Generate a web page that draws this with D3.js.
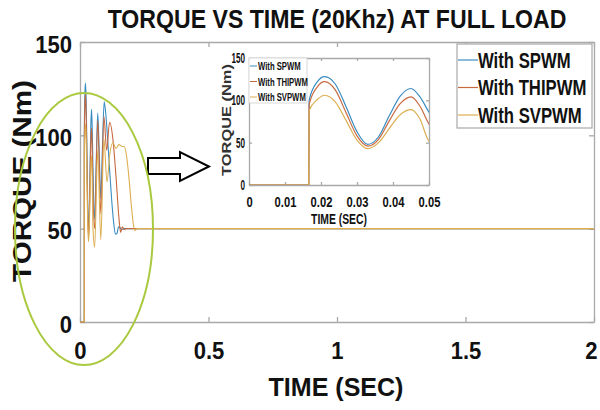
<!DOCTYPE html>
<html>
<head>
<meta charset="utf-8">
<script src="https://cdn.jsdelivr.net/npm/d3@7"></script>
<style>
  body { margin: 0; background: #fff; }
  svg { display: block; }
  text { font-family: "Liberation Sans", Arial, sans-serif; font-weight: bold; fill: #111; }
  .ax .domain, .ax line { stroke: #a9a9a9; stroke-width: 1.3; }
</style>
</head>
<body>
<svg id="chart" width="600" height="410"></svg>
<script>
const seriesNames = ['With SPWM', 'With THIPWM', 'With SVPWM'];
const seriesColors = ['#3a8dc2', '#c8683f', '#dcae52'];

const spwmTime = [0, 0.0166, 0.0167, 0.019, 0.021, 0.024, 0.027, 0.030, 0.033, 0.036, 0.039, 0.042, 0.045, 0.0475, 0.05,
  0.057, 0.063, 0.069, 0.075, 0.081, 0.087, 0.094, 0.1, 0.108, 0.116, 0.124, 0.132, 0.138, 0.144, 0.15, 0.156, 0.162, 0.17, 2];
const spwmTorque = [0, 0, 100, 122, 128, 119, 92, 63, 48, 57, 82, 105, 114, 104, 86,
  55, 85, 112, 90, 66, 92, 118, 112, 97, 80, 64, 52, 47, 47.5, 51, 50.5, 49.5, 50, 50];

const thiTime = [0, 0.0166, 0.0167, 0.019, 0.021, 0.024, 0.027, 0.030, 0.033, 0.036, 0.039, 0.042, 0.045, 0.0475, 0.05,
  0.057, 0.069, 0.081, 0.093, 0.104, 0.115, 0.128, 0.14, 0.152, 0.158, 0.165, 0.172, 0.18, 2];
const thiTorque = [0, 0, 95, 116, 122, 112, 85, 58, 46, 54, 76, 96, 104, 93, 72,
  50, 108, 58, 110, 92, 107, 98, 78, 55, 48, 51, 49.5, 50, 50];

const svTime = [0, 0.0166, 0.0167, 0.019, 0.021, 0.024, 0.027, 0.030, 0.033, 0.036, 0.039, 0.042, 0.045, 0.0475, 0.05,
  0.057, 0.069, 0.081, 0.093, 0.105, 0.116, 0.128, 0.14, 0.152, 0.164, 0.172, 0.18, 0.19, 0.2, 0.208, 0.214, 0.222, 2];
const svTorque = [0, 0, 88, 101, 106, 98, 76, 53, 43, 50, 67, 83, 89, 78, 52,
  40, 92, 44, 98, 75, 90, 96, 93, 95, 94, 94, 90, 78, 62, 52, 49, 50, 50];

const xTicks = [0, 0.5, 1, 1.5, 2];
const yTicks = [0, 50, 100, 150];
const insetXTicks = [0, 0.01, 0.02, 0.03, 0.04, 0.05];
const insetYTicks = [0, 50, 100, 150];

const series = [
  { name: seriesNames[0], color: seriesColors[0], pts: d3.zip(spwmTime, spwmTorque) },
  { name: seriesNames[1], color: seriesColors[1], pts: d3.zip(thiTime, thiTorque) },
  { name: seriesNames[2], color: seriesColors[2], pts: d3.zip(svTime, svTorque) }
];

const svg = d3.select('#chart');

// narrow the glyphs horizontally (the source figure uses a condensed face)
function condense(sel, k) {
  sel.each(function() {
    var t = d3.select(this);
    var x0 = +t.attr('x') || 0;
    t.attr('x', x0 / k).attr('transform', 'scale(' + k + ',1)');
  });
}
// place a text at (px,py), optionally rotated, scaled along its run to a target length
function placeText(px, py, rot, str, size, len) {
  var t = svg.append('text')
    .attr('text-anchor', 'middle')
    .style('font-size', size + 'px')
    .text(str);
  var k = len / t.node().getComputedTextLength();
  t.attr('transform', 'translate(' + px + ',' + py + ')' + (rot ? ' rotate(' + rot + ')' : '') + ' scale(' + k + ',1)');
  return t;
}

// ---- main axes
const x = d3.scaleLinear().domain([0, 2]).range([80, 594]);
const y = d3.scaleLinear().domain([0, 150]).range([322, 42]);

svg.append('rect')
  .attr('x', 80).attr('y', 42).attr('width', 514).attr('height', 280)
  .attr('fill', '#fff');

const gx = svg.append('g').attr('class', 'ax')
  .attr('transform', 'translate(0,322)')
  .call(d3.axisBottom(x).tickValues(xTicks).tickSize(-5).tickSizeOuter(0).tickPadding(20).tickFormat(d3.format('~g')));
gx.selectAll('text').style('font-size', '24px')
  .attr('x', function(d) { return d === 2 ? -3 : 0; })
  .call(condense, 0.92);

svg.append('g').attr('class', 'ax')
  .attr('transform', 'translate(0,42)')
  .call(d3.axisTop(x).tickValues(xTicks).tickSize(-5).tickSizeOuter(0).tickFormat(''));

const gy = svg.append('g').attr('class', 'ax')
  .attr('transform', 'translate(80,0)')
  .call(d3.axisLeft(y).tickValues(yTicks).tickSize(-5).tickSizeOuter(0).tickPadding(8));
gy.selectAll('text').style('font-size', '24px').attr('dy', '0.42em').call(condense, 0.92);

svg.append('g').attr('class', 'ax')
  .attr('transform', 'translate(594,0)')
  .call(d3.axisRight(y).tickValues(yTicks).tickSize(-5).tickSizeOuter(0).tickFormat(''));

const line = d3.line()
  .x(function(d) { return x(d[0]); })
  .y(function(d) { return y(d[1]); })
  .curve(d3.curveMonotoneX);

svg.append('g').selectAll('path')
  .data(series)
  .enter().append('path')
  .attr('d', function(d) { return line(d.pts); })
  .attr('fill', 'none')
  .attr('stroke', function(d) { return d.color; })
  .attr('stroke-width', 1.1);

placeText(337, 28, 0, 'TORQUE VS TIME (20Khz) AT FULL LOAD', 25, 459);
placeText(31, 181, -90, 'TORQUE (Nm)', 26, 202);
placeText(336, 396, 0, 'TIME (SEC)', 26, 135);

// ---- main legend
const legend = svg.append('g');
legend.append('rect')
  .attr('x', 457).attr('y', 44).attr('width', 135).attr('height', 84)
  .attr('fill', '#fff').attr('stroke', '#a9a9a9').attr('stroke-width', 1.2);
const le = legend.selectAll('g.item')
  .data(series)
  .enter().append('g').attr('class', 'item')
  .attr('transform', function(d, i) { return 'translate(0,' + (60 + i * 27.5) + ')'; });
le.append('line')
  .attr('x1', 458).attr('x2', 478)
  .attr('stroke', function(d) { return d.color; }).attr('stroke-width', 1.2);
le.append('text')
  .attr('x', 478).attr('y', 7.5)
  .style('font-size', '22px')
  .text(function(d) { return d.name; })
  .call(condense, 0.76);

// ---- inset
const xi = d3.scaleLinear().domain([0, 0.05]).range([249, 429]);
const yi = d3.scaleLinear().domain([0, 150]).range([185, 58]);

const inset = svg.append('g');
inset.append('rect')
  .attr('x', 249).attr('y', 58).attr('width', 180).attr('height', 127)
  .attr('fill', '#fff');
inset.append('clipPath').attr('id', 'inclip')
  .append('rect').attr('x', 249).attr('y', 58).attr('width', 180).attr('height', 127);

const ixl = inset.append('g').attr('class', 'ax')
  .attr('transform', 'translate(0,185)')
  .call(d3.axisBottom(xi).tickValues(insetXTicks).tickSize(-3).tickSizeOuter(0).tickPadding(12).tickFormat(d3.format('~g')));
ixl.selectAll('text').style('font-size', '14px').call(condense, 0.8);
inset.append('g').attr('class', 'ax')
  .attr('transform', 'translate(0,58)')
  .call(d3.axisTop(xi).tickValues(insetXTicks).tickSize(-3).tickSizeOuter(0).tickFormat(''));
const iyl = inset.append('g').attr('class', 'ax')
  .attr('transform', 'translate(249,0)')
  .call(d3.axisLeft(yi).tickValues(insetYTicks).tickSize(-3).tickSizeOuter(0).tickPadding(4));
iyl.selectAll('text').style('font-size', '14px').call(condense, 0.58);
inset.append('g').attr('class', 'ax')
  .attr('transform', 'translate(429,0)')
  .call(d3.axisRight(yi).tickValues(insetYTicks).tickSize(-3).tickSizeOuter(0).tickFormat(''));

const iline = d3.line()
  .x(function(d) { return xi(d[0]); })
  .y(function(d) { return yi(d[1]); })
  .curve(d3.curveMonotoneX);

inset.append('g').attr('clip-path', 'url(#inclip)')
  .selectAll('path')
  .data(series)
  .enter().append('path')
  .attr('d', function(d) { return iline(d.pts.filter(function(p) { return p[0] <= 0.06; })); })
  .attr('fill', 'none')
  .attr('stroke', function(d) { return d.color; })
  .attr('stroke-width', 1.2);

placeText(231, 120, -90, 'TORQUE (Nm)', 13, 112).style('fill', '#333');
placeText(339, 224, 0, 'TIME (SEC)', 14, 56);

const ileg = inset.append('g');
ileg.append('rect')
  .attr('x', 249).attr('y', 58).attr('width', 58).attr('height', 45)
  .attr('fill', '#fff').attr('stroke', '#cfcfcf').attr('stroke-width', 0.8);
const ie = ileg.selectAll('g.item')
  .data(series)
  .enter().append('g').attr('class', 'item')
  .attr('transform', function(d, i) { return 'translate(0,' + (66 + i * 15.5) + ')'; });
ie.append('line')
  .attr('x1', 250).attr('x2', 257)
  .attr('stroke', function(d) { return d.color; }).attr('stroke-width', 1);
ie.append('text')
  .attr('x', 258).attr('y', 4)
  .style('font-size', '11px')
  .text(function(d) { return d.name; })
  .call(condense, 0.7);

// ---- annotations: arrow and highlight ellipse
const arrowPts = [[148, 158], [180, 158], [180, 152], [209, 166.5], [180, 181], [180, 174], [148, 174]];
svg.append('polygon')
  .attr('points', arrowPts.map(function(p) { return p.join(','); }).join(' '))
  .attr('fill', '#fff')
  .attr('stroke', '#000')
  .attr('stroke-width', 2)
  .attr('stroke-linejoin', 'miter');

svg.append('ellipse')
  .attr('cx', 84).attr('cy', 229)
  .attr('rx', 69).attr('ry', 136)
  .attr('fill', 'none')
  .attr('stroke', '#a9c93f')
  .attr('stroke-width', 2);
</script>
</body>
</html>
